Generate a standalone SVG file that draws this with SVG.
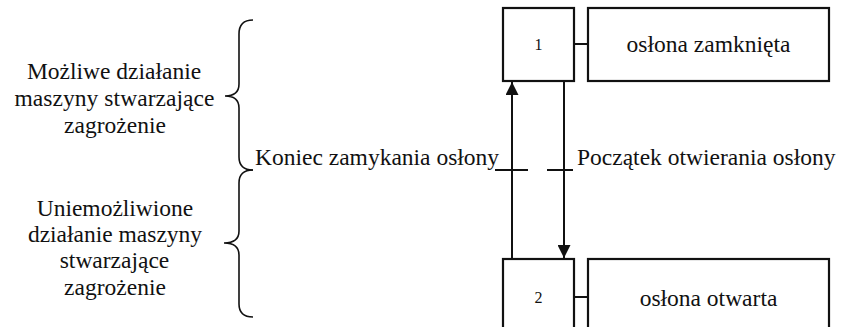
<svg xmlns="http://www.w3.org/2000/svg" width="849" height="327" viewBox="0 0 849 327">
  <style>
    text { font-family: "Liberation Serif", "Times New Roman", serif; font-size: 23.5px; fill: #111; }
    .num { font-size: 16px; }
    .mid { text-anchor: middle; }
    .box { fill: #fff; stroke: #111; stroke-width: 2.2; }
    .ln { fill: none; stroke: #111; stroke-width: 2; }
    .brace { fill: none; stroke: #111; stroke-width: 1.6; }
  </style>
  <defs>
    <marker id="head" viewBox="0 0 10 10" refX="10" refY="5" markerWidth="13" markerHeight="13" markerUnits="userSpaceOnUse" orient="auto">
      <path d="M0,0 L10,5 L0,10 Z" fill="#111"/>
    </marker>
  </defs>
  <rect width="849" height="327" fill="#fff"/>

  <!-- side captions with braces -->
  <g id="state-danger">
    <text class="mid" x="114" y="79">Możliwe działanie</text>
    <text class="mid" x="114.5" y="106" textLength="200" lengthAdjust="spacing">maszyny stwarzające</text>
    <text class="mid" x="115" y="133">zagrożenie</text>
    <path class="brace" d="M253,20 Q239,20 239,34 L239,84 Q239,96 225,96 Q239,96 239,108 L239,157 Q239,170 253,170"/>
  </g>
  <g id="state-safe">
    <text class="mid" x="115" y="216">Uniemożliwione</text>
    <text class="mid" x="115" y="242">działanie maszyny</text>
    <text class="mid" x="114.5" y="268">stwarzające</text>
    <text class="mid" x="115" y="295">zagrożenie</text>
    <path class="brace" d="M253,170 Q239,170 239,183 L239,231 Q239,243 224,243 Q239,243 239,255 L239,304 Q239,317 253,317"/>
  </g>

  <!-- step 1 -->
  <g id="step1">
    <rect class="box" x="503" y="8" width="71" height="73"/>
    <text class="num mid" x="538.5" y="50">1</text>
    <line class="ln" x1="574" y1="44" x2="588" y2="44"/>
    <rect class="box" x="588" y="8" width="241" height="73"/>
    <text class="mid" x="708.5" y="52">osłona zamknięta</text>
  </g>

  <!-- step 2 -->
  <g id="step2">
    <rect class="box" x="503" y="259" width="71" height="90"/>
    <text class="num mid" x="538.5" y="303">2</text>
    <line class="ln" x1="574" y1="297" x2="588" y2="297"/>
    <rect class="box" x="588" y="259" width="241" height="90"/>
    <text class="mid" x="708.5" y="306">osłona otwarta</text>
  </g>

  <!-- transitions -->
  <g id="connectors">
    <line class="ln" x1="512" y1="259" x2="512" y2="82" marker-end="url(#head)"/>
    <line class="ln" x1="564" y1="82" x2="564" y2="258" marker-end="url(#head)"/>
    <line class="ln" x1="495" y1="170" x2="528" y2="170"/>
    <line class="ln" x1="547" y1="170" x2="573" y2="170"/>
  </g>
  <g id="transition-labels">
    <text x="255" y="165">Koniec zamykania osłony</text>
    <text x="577" y="165">Początek otwierania osłony</text>
  </g>
</svg>
